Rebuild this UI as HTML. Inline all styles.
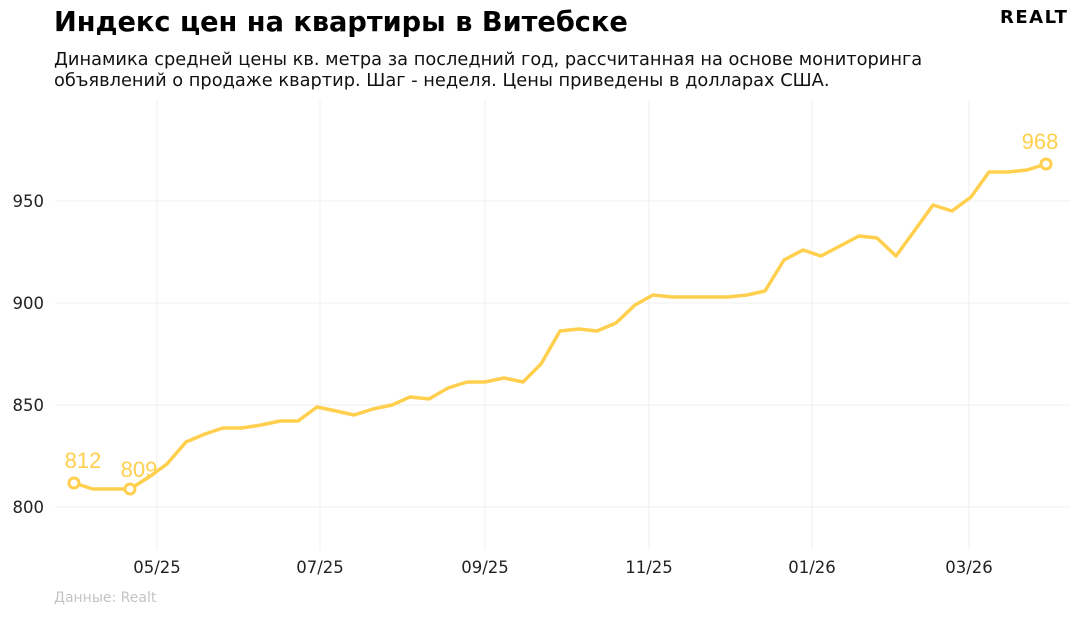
<!DOCTYPE html><html><head><meta charset="utf-8"><style>
body{margin:0;width:1080px;height:617px;background:#fff;font-family:"DejaVu Sans","Liberation Sans",sans-serif;overflow:hidden}
</style></head><body>
<svg width="1080" height="617" xmlns="http://www.w3.org/2000/svg" font-family="DejaVu Sans, Liberation Sans, sans-serif">
<text x="54" y="31" font-size="27.2" font-weight="bold" fill="#000">Индекс цен на квартиры в Витебске</text>
<text x="1000" y="23" font-size="18" font-weight="bold" fill="#000" letter-spacing="1.5">REALT</text>
<text x="54" y="65" font-size="17.8" fill="#111">Динамика средней цены кв. метра за последний год, рассчитанная на основе мониторинга</text>
<text x="54" y="86" font-size="17.8" fill="#111">объявлений о продаже квартир. Шаг - неделя. Цены приведены в долларах США.</text>
<g stroke="#efefef" stroke-width="1">
<line x1="55" x2="1070" y1="201" y2="201"/><line x1="55" x2="1070" y1="303" y2="303"/><line x1="55" x2="1070" y1="405" y2="405"/><line x1="55" x2="1070" y1="507" y2="507"/>
<line x1="157" x2="157" y1="100" y2="550"/><line x1="320" x2="320" y1="100" y2="550"/><line x1="485" x2="485" y1="100" y2="550"/><line x1="649" x2="649" y1="100" y2="550"/><line x1="812" x2="812" y1="100" y2="550"/><line x1="969" x2="969" y1="100" y2="550"/>
</g>
<g font-size="16.5" fill="#222" text-anchor="end">
<text x="44" y="207">950</text><text x="44" y="309">900</text><text x="44" y="411">850</text><text x="44" y="513">800</text>
</g>
<g font-size="16.5" fill="#222" text-anchor="middle">
<text x="157" y="573">05/25</text><text x="320" y="573">07/25</text><text x="485" y="573">09/25</text><text x="649" y="573">11/25</text><text x="812" y="573">01/26</text><text x="969" y="573">03/26</text>
</g>
<text x="54" y="602" font-size="14" fill="#c4c4c4">Данные: Realt</text>
<polyline fill="none" stroke="#ffcf4d" stroke-width="3.5" stroke-linejoin="round" points="74,483 93,489 111,489 130,489 149,477 167,464 186,442 205,434 223,428 242,428 261,425 280,421 298,421 317,407 336,411 354,415 373,409 392,405 410,397 429,399 448,388 467,382 485,382 504,378 523,382 541,364 560,331 579,329 597,331 616,323 635,305 653,295 672,297 691,297 709,297 728,297 747,295 765,291 784,260 803,250 821,256 840,246 859,236 877,238 896,256 915,230 933,205 952,211 971,197 989,172 1008,172 1027,170 1046,164"/>
<g fill="#fff" stroke="#ffcf4d" stroke-width="3"><circle cx="74" cy="483" r="5"/><circle cx="130" cy="489" r="5"/><circle cx="1046" cy="164" r="5"/></g>
<g font-size="22" fill="#ffcf4d" font-family="Liberation Sans, sans-serif" text-anchor="middle">
<text x="83" y="468">812</text><text x="139" y="477">809</text><text x="1040" y="149">968</text>
</g>
</svg>
</body></html>
